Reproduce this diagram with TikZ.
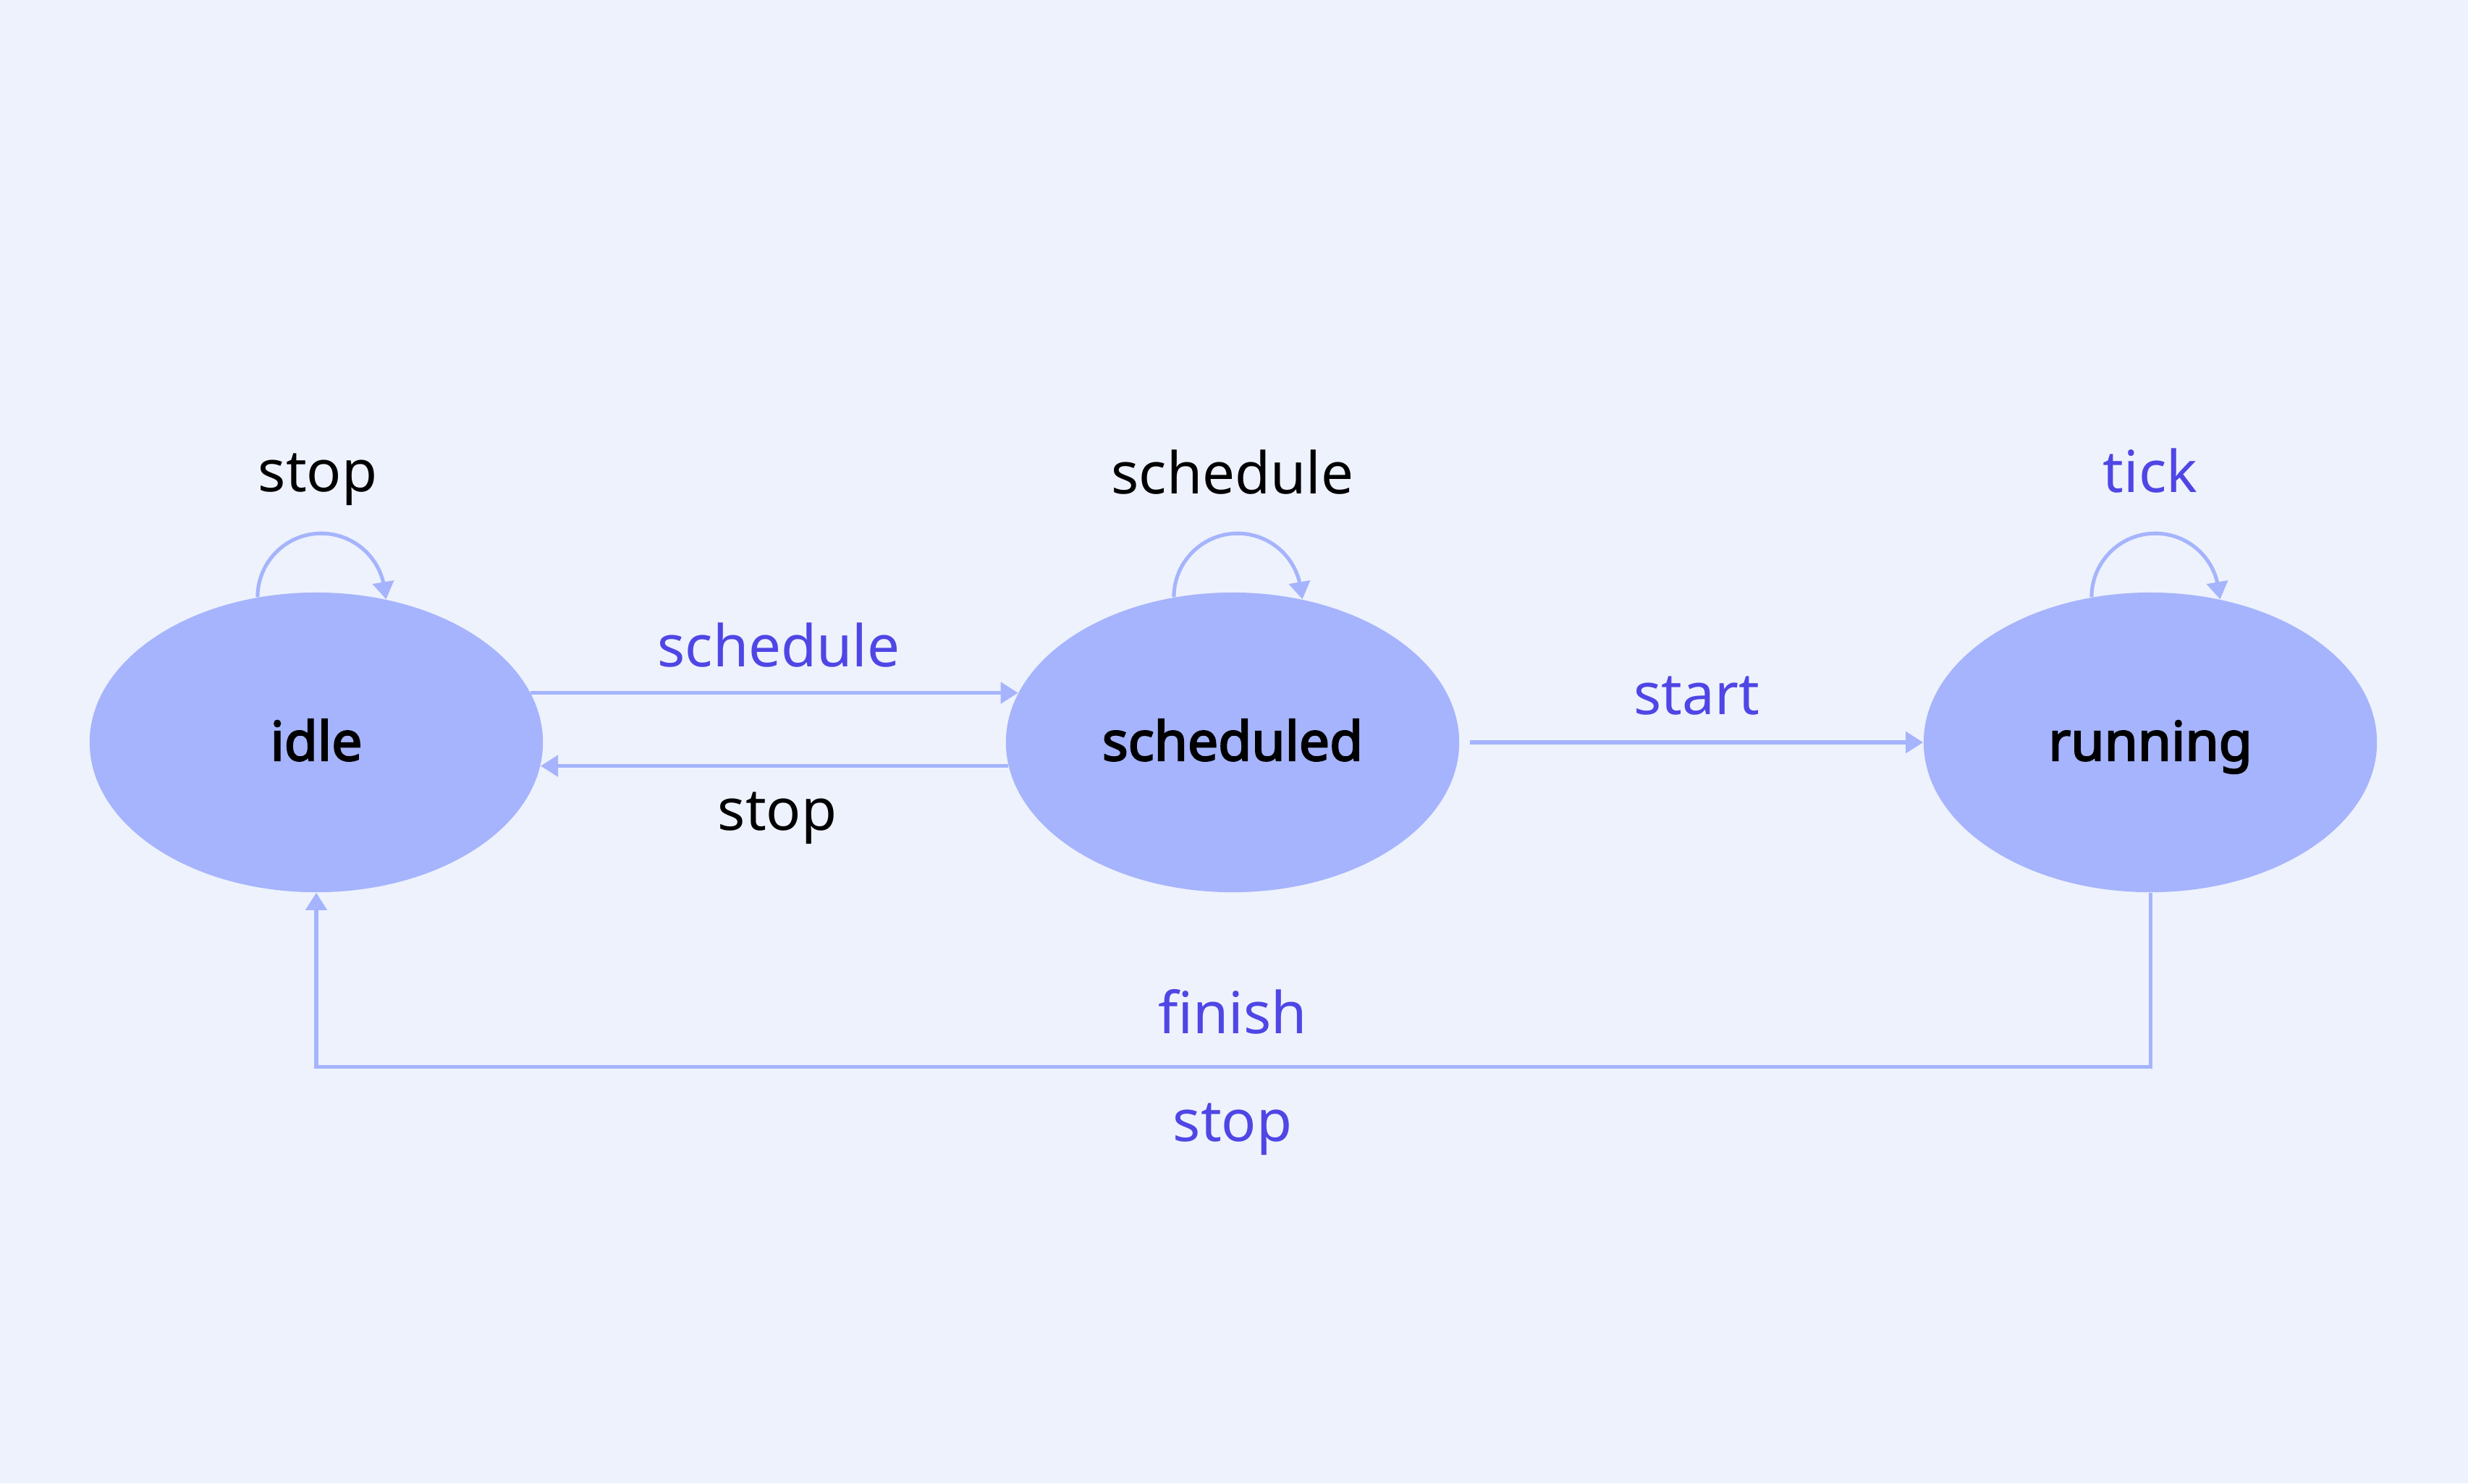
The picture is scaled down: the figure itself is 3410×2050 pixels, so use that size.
\documentclass[tikz,border=0pt]{standalone}
\usepackage{fontspec}
\setmainfont{Noto Sans}[AutoFakeBold=3]
\usetikzlibrary{arrows.meta,shapes.geometric}
\definecolor{bgc}{HTML}{EEF2FD}
\definecolor{nodefill}{HTML}{A5B4FC}
\definecolor{edgec}{HTML}{A5B4FC}
\definecolor{lblblue}{HTML}{4F46E5}
\tikzset{
  state/.style={ellipse, fill=nodefill, draw=none, minimum width=6.26cm, minimum height=4.14cm, inner sep=0pt, font=\fontsize{21.3}{25}\selectfont\bfseries, text=black},
  statelbl/.style={anchor=base, inner sep=0pt, font=\fontsize{21.3}{25}\selectfont\bfseries, text=black},
  edge/.style={draw=edgec, line width=1.45pt, -{Triangle[length=2.4mm,width=2.9mm]}},
  lbl/.style={font=\fontsize{22.7}{27}\selectfont, inner sep=0pt, anchor=base},
  lblb/.style={lbl, text=lblblue},
  lblk/.style={lbl, text=black}
}
\begin{document}
\begin{tikzpicture}[x=0.01cm,y=0.01cm]
\fill[bgc] (0,0) rectangle (3410,-2050);
\useasboundingbox (0,0) rectangle (3410,-2050);

\node[state] (idle) at (437,-1026) {};
\node[state] (sched) at (1703,-1026) {};
\node[state] (run) at (2971,-1026) {};
\node[statelbl] (tidle) at (437,-1051) {idle};
\node[statelbl] (tsched) at (1703,-1051) {scheduled};
\node[statelbl] (trun) at (2971,-1051) {running};

% self loops
\draw[edge] (idle.112) arc[start angle=180, end angle=14, radius=8.8mm] -- (idle.64);
\draw[edge] (sched.112) arc[start angle=180, end angle=14, radius=8.8mm] -- (sched.64);
\draw[edge] (run.112) arc[start angle=180, end angle=14, radius=8.8mm] -- (run.64);
\node[lblk] (lstop1) at (439,-679) {stop};
\node[lblk] (lsched1) at (1703,-682) {schedule};
\node[lblb] (ltick) at (2971,-680) {tick};

% idle <-> scheduled
\draw[edge] (idle.13) -- (sched.167);
\node[lblb] (lsched2) at (1076,-921) {schedule};
\draw[edge] (sched.186) -- (idle.-6);
\node[lblk] (lstop2) at (1074,-1147) {stop};

% scheduled -> running
\draw[edge] ([xshift=4pt]sched.east) -- (run.west);
\node[lblb] (lstart) at (2344,-987) {start};

% running -> idle
\draw[edge] (run.south) -- ++(0,-241) -| (idle.south);
\node[lblb] (lfinish) at (1703,-1428) {finish};
\node[lblb] (lstop3) at (1703,-1577) {stop};
\end{tikzpicture}
\end{document}
